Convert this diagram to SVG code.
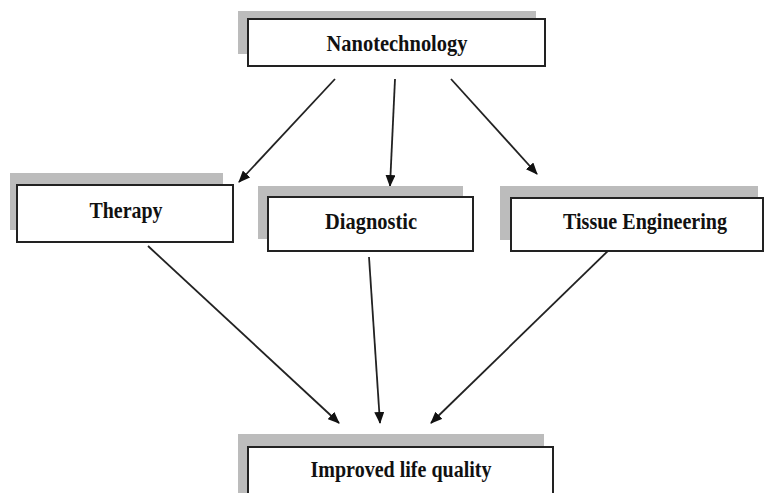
<svg xmlns="http://www.w3.org/2000/svg" width="764" height="493" viewBox="0 0 764 493">
<style>
.shadow{fill:#bcbcbc;stroke:none}
.box{fill:#fff;stroke:#222;stroke-width:2}
.lbl{font-family:"Liberation Serif","Times New Roman",serif;font-weight:bold;font-size:24px;fill:#111}
.conn{stroke:#222;stroke-width:1.8;fill:none;marker-end:url(#ah)}
</style>
<defs>
<marker id="ah" viewBox="0 0 12 10" refX="11" refY="5" markerWidth="12" markerHeight="10" markerUnits="userSpaceOnUse" orient="auto">
<path d="M0,0 L12,5 L0,10 Z" fill="#111"/>
</marker>
</defs>
<rect width="764" height="493" fill="#fff"/>
<g id="connectors">
<line class="conn" x1="335" y1="79" x2="239" y2="182"/>
<line class="conn" x1="395" y1="79" x2="390" y2="186"/>
<line class="conn" x1="451" y1="79" x2="537" y2="174"/>
<line class="conn" x1="148" y1="246" x2="339" y2="423"/>
<line class="conn" x1="369" y1="257" x2="380" y2="423"/>
<line class="conn" x1="613" y1="246" x2="431" y2="423"/>
</g>
<g id="nanotechnology">
<rect class="shadow" x="238" y="11" width="298" height="43"/>
<rect class="box" x="248" y="19" width="297" height="47"/>
<text class="lbl" x="397" y="51" text-anchor="middle" textLength="141" lengthAdjust="spacingAndGlyphs">Nanotechnology</text>
</g>
<g id="therapy">
<rect class="shadow" x="10" y="173" width="213" height="57"/>
<rect class="box" x="17" y="185" width="216" height="57"/>
<text class="lbl" x="126" y="218" text-anchor="middle" textLength="73" lengthAdjust="spacingAndGlyphs">Therapy</text>
</g>
<g id="diagnostic">
<rect class="shadow" x="258" y="186" width="205" height="53"/>
<rect class="box" x="268" y="197" width="205" height="54"/>
<text class="lbl" x="371" y="229" text-anchor="middle" textLength="92" lengthAdjust="spacingAndGlyphs">Diagnostic</text>
</g>
<g id="tissue-engineering">
<rect class="shadow" x="500" y="186" width="258" height="54"/>
<rect class="box" x="511" y="198" width="252" height="53"/>
<text class="lbl" x="645" y="229" text-anchor="middle" textLength="164" lengthAdjust="spacingAndGlyphs">Tissue Engineering</text>
</g>
<g id="improved-life-quality">
<rect class="shadow" x="238" y="434" width="306" height="59"/>
<rect class="box" x="248" y="447" width="305" height="50"/>
<text class="lbl" x="401" y="477" text-anchor="middle" textLength="181" lengthAdjust="spacingAndGlyphs">Improved life quality</text>
</g>
</svg>
